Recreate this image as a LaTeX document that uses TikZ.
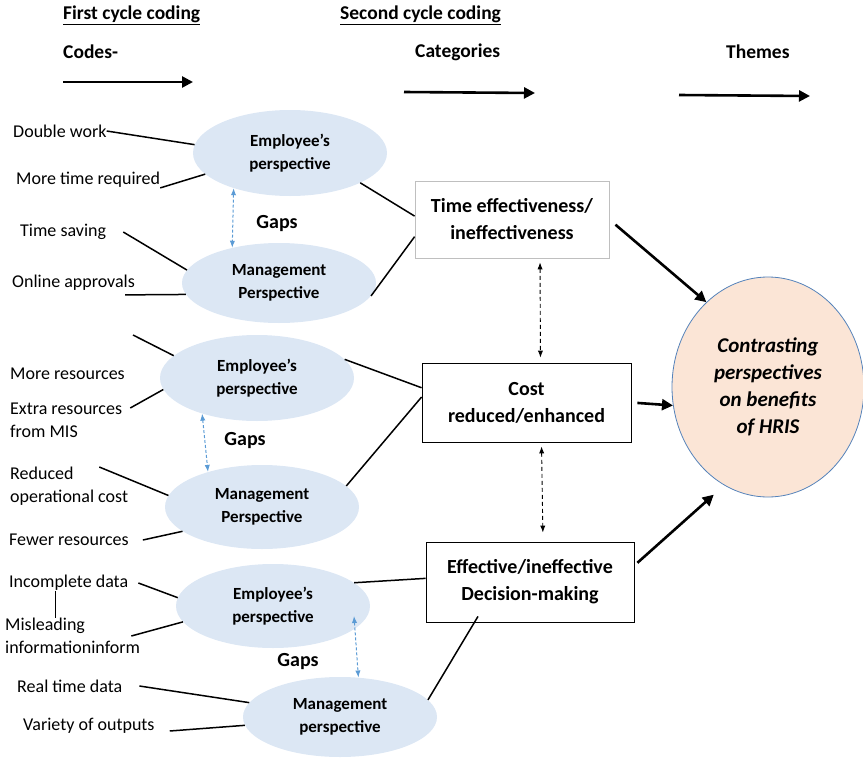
\documentclass[tikz,border=0pt]{standalone}
\usepackage{fontspec}
\setmainfont{Carlito}
\usetikzlibrary{shapes, arrows.meta, positioning, calc}
\definecolor{perspblue}{RGB}{220, 231, 244}
\definecolor{gapblue}{RGB}{91, 155, 213}
\definecolor{themefill}{RGB}{251, 229, 214}
\definecolor{themeline}{RGB}{84, 130, 186}
\definecolor{boxgray}{RGB}{191, 191, 191}

\begin{document}
\begin{tikzpicture}[x=1pt, y=-1pt,
  head/.style={anchor=west, inner sep=0pt, font=\fontsize{19.5}{23}\selectfont\bfseries},
  code/.style={anchor=west, align=left, inner sep=0pt, font=\fontsize{18}{23}\selectfont},
  persp/.style={ellipse, fill=perspblue, minimum width=194pt, minimum height=84pt, inner sep=0pt, align=center, font=\fontsize{17}{23}\selectfont\bfseries},
  catbox/.style={draw, line width=0.8pt, minimum height=79pt, align=center, font=\fontsize{20}{27}\selectfont\bfseries},
  gaplabel/.style={font=\fontsize{20}{24}\selectfont\bfseries},
  link/.style={line width=1.5pt},
  flow/.style={line width=2.6pt, -{Triangle[length=11pt, width=11pt]}},
  gaparrow/.style={draw=gapblue, line width=1pt, densely dashed, {Latex[length=7pt]}-{Latex[length=7pt]}},
  catarrow/.style={line width=0.9pt, dash pattern=on 4pt off 3pt, {Latex[length=7pt]}-{Latex[length=7pt]}}
]
  \useasboundingbox (0,0) rectangle (863,758);

  % headings
  \node[head] (first) at (63,15) {\underline{First cycle coding}};
  \node[head] (second) at (340,15) {\underline{Second cycle coding}};
  \node[head] (codes) at (63,52) {Codes-};
  \node[head] (categ) at (415,52) {Categories};
  \node[head] (themes) at (726,52) {Themes};
  \coordinate (codesL) at (63,82);   \coordinate (codesR) at (193,82);
  \coordinate (categL) at (404,92);  \coordinate (categR) at (535,93);
  \coordinate (themeL) at (679,95);  \coordinate (themeR) at (810,96);
  \draw[flow] (codesL) -- (codesR);
  \draw[flow] (categL) -- (categR);
  \draw[flow] (themeL) -- (themeR);

  % perspectives
  \node[persp, minimum height=86pt] (emp1) at (290,153) {Employee’s\\perspective};
  \node[persp, minimum height=80pt] (man1) at (279,283) {Management\\Perspective};
  \node[persp, minimum height=86pt] (emp2) at (257,378) {Employee’s\\perspective};
  \node[persp] (man2) at (262,507) {Management\\Perspective};
  \node[persp] (emp3) at (273,606) {Employee’s\\perspective};
  \node[persp, minimum height=80pt] (man3) at (340,717) {Management\\perspective};
  \node[gaplabel] (gap1) at (277,224) {Gaps};
  \node[gaplabel] (gap2) at (245,441) {Gaps};
  \node[gaplabel] (gap3) at (298,662) {Gaps};
  \draw[gaparrow] (emp1.212) -- (man1.143);
  \draw[gaparrow] (emp2.213) -- (man2.147);
  \draw[gaparrow] ($(emp3.center)+(81,10)$) -- (man3.65);

  % codes
  \node[code] (dwork) at (13,131) {Double work};
  \node[code] (mtime) at (16,180) {More time required};
  \node[code] (tsave) at (20,232) {Time saving};
  \node[code] (online) at (12,283) {Online approvals};
  \coordinate (mresend) at (133,335);
  \node[code] (mres) at (10,374) {More resources};
  \node[code] (extra) at (10,420) {Extra resources\\from MIS};
  \node[code] (reduced) at (10,486) {Reduced\\operational cost};
  \node[code] (fewer) at (9,540) {Fewer resources};
  \node[code] (incomp) at (9,583) {Incomplete data};
  \node[code] (mislead) at (5,636) {Misleading\\informationinform};
  \node[code] (realtime) at (17,686) {Real time data};
  \node[code] (variety) at (23,726) {Variety of outputs};

  \draw[link] (dwork.east) -- (emp1.175);
  \draw[link] (mtime.south east) -- (emp1.194);
  \draw[link] ([xshift=17pt]tsave.east) -- (man1.172);
  \draw[link] ([xshift=-10pt, yshift=-4pt]online.south east) -- (man1.187);
  \draw[link] (mresend) -- (emp2.165);
  \draw[link] ([xshift=8pt, yshift=12pt]extra.east) -- (emp2.187);
  \draw[link] ([xshift=-29pt, yshift=19pt]reduced.east) -- (man2.173);
  \draw[link] ([xshift=14pt]fewer.east) -- (man2.197);
  \draw[link] ([xshift=10pt]incomp.east) -- (emp3.175);
  \draw[link, line width=1pt] ([xshift=46pt]incomp.south west) -- ([xshift=50pt]mislead.north west);
  \draw[link] ([xshift=-9pt]mislead.east) -- (emp3.190);
  \draw[link] ([xshift=17pt]realtime.east) -- (man3.171);
  \draw[link] ([xshift=15pt, yshift=-5pt]variety.east) -- (man3.185);

  % categories
  \node[catbox, draw=boxgray, minimum width=194pt, minimum height=77pt] (tbox) at (512,219.5) {Time effectiveness/\\ineffectiveness};
  \node[catbox, minimum width=209pt] (cbox) at (526.5,402.5) {Cost\\reduced/enhanced};
  \node[catbox, minimum width=208pt, minimum height=80pt] (dbox) at (530,582) {Effective/ineffective\\Decision-making};
  \draw[link] (emp1.337) -- (tbox.178);
  \draw[link] (man1.352) -- (tbox.190);
  \draw[link] (emp2.12) -- (cbox.172);
  \draw[link] (man2.14) -- (cbox.177);
  \draw[link] (emp3.16) -- (dbox.178);
  \draw[link, shorten >=-7pt] (man3.11) -- (dbox.216);
  \draw[catarrow, shorten <=4pt, shorten >=5pt] ([xshift=28pt]tbox.south) -- ([xshift=14pt]cbox.north);
  \draw[catarrow, shorten <=4pt, shorten >=9pt] ([xshift=15pt]cbox.south) -- ([xshift=13pt]dbox.north);

  % theme
  \node[ellipse, draw=themeline, fill=themefill, line width=0.8pt, minimum width=192pt, minimum height=220pt, inner sep=0pt, align=center, font=\fontsize{21}{27}\selectfont\bfseries\itshape] (theme) at (768,387) {Contrasting\\perspectives\\on benefits\\of HRIS};
  \draw[flow, shorten <=8pt] (tbox.east) -- (theme.126);
  \draw[flow, shorten <=6pt] (cbox.east) -- (theme.191);
  \draw[flow, shorten <=4pt, shorten >=14pt] (dbox.9) -- (theme.246);
\end{tikzpicture}
\end{document}
